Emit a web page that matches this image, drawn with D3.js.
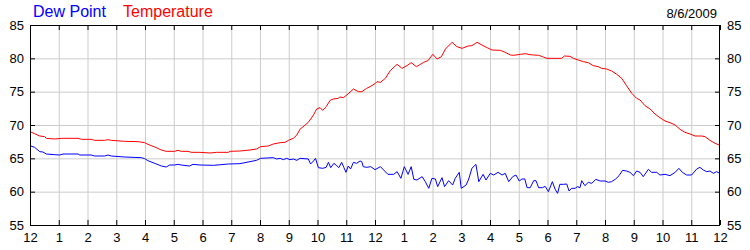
<!DOCTYPE html>
<html>
<head>
<meta charset="utf-8">
<script src="https://cdn.jsdelivr.net/npm/d3@7"></script>
<style>
  body { margin: 0; background: #fff; }
  text { font-family: "Liberation Sans", Arial, sans-serif; }
</style>
</head>
<body>
<div id="chart"></div>
<script>
// hours since midnight, readings in degrees F
const tempHours = [0, 0.16, 0.34, 0.51, 0.57, 0.86, 1.09, 1.67, 1.79, 2.13, 2.25, 2.60, 2.71, 2.83, 3.29, 3.76, 3.99, 4.10, 4.34, 4.57,
  4.74, 5.03, 5.15, 5.26, 5.50, 5.61, 5.91, 6.26, 6.49, 6.90, 6.96, 7.30, 7.65, 7.88, 8.02, 8.29, 8.46, 8.70, 8.87, 8.99,
  9.16, 9.28, 9.39, 9.57, 9.68, 9.86, 9.97, 10.09, 10.18, 10.30, 10.44, 10.55, 10.72, 10.78, 10.90, 11.02, 11.25, 11.42, 11.54, 11.71,
  11.83, 12.00, 12.07, 12.19, 12.36, 12.53, 12.77, 12.94, 13.11, 13.26, 13.44, 13.58, 13.69, 13.84, 14.01, 14.16, 14.31, 14.45, 14.68, 14.85,
  15.03, 15.24, 15.37, 15.55, 15.72, 15.90, 16.07, 16.36, 16.53, 16.71, 16.82, 17.06, 17.23, 17.39, 17.52, 17.69, 17.83, 17.98, 18.49, 18.59,
  18.78, 18.90, 19.07, 19.25, 19.42, 19.59, 19.77, 19.88, 20.06, 20.23, 20.41, 20.58, 20.75, 20.93, 21.10, 21.22, 21.39, 21.57, 21.74, 21.91,
  22.09, 22.26, 22.44, 22.61, 22.78, 22.96, 23.13, 23.36, 23.48, 23.65, 23.83, 24.00];
const temperature = [69.0, 68.7, 68.35, 68.25, 68.0, 67.9, 68.0, 68.0, 67.85, 67.85, 67.7, 67.7, 67.8, 67.7, 67.55, 67.5, 67.35, 67.1, 66.7, 66.25,
  66.05, 66.05, 66.2, 66.05, 66.05, 65.9, 65.9, 65.8, 65.9, 65.9, 66.05, 66.1, 66.25, 66.4, 66.75, 66.85, 67.15, 67.35, 67.4, 67.7,
  68.0, 68.5, 69.35, 70.0, 70.4, 71.5, 72.4, 72.6, 72.2, 72.75, 73.7, 73.9, 74.0, 74.2, 74.1, 74.5, 75.4, 75.0, 75.0, 75.5,
  75.75, 76.2, 76.5, 76.4, 77.0, 78.15, 79.1, 78.5, 78.9, 79.35, 78.75, 79.1, 79.4, 79.65, 80.6, 79.9, 80.25, 81.4, 82.4, 81.75,
  81.5, 81.85, 81.9, 82.4, 82.0, 81.6, 81.25, 81.2, 80.9, 80.5, 80.45, 80.6, 80.7, 80.55, 80.5, 80.45, 80.25, 80.0, 80.0, 80.35,
  80.3, 80.0, 79.75, 79.5, 79.35, 78.9, 78.75, 78.5, 78.4, 78.1, 77.6, 77.0, 75.9, 74.75, 74.0, 73.75, 72.9, 72.4, 71.65, 71.1,
  70.6, 70.35, 70.0, 69.35, 68.9, 68.65, 68.35, 68.35, 68.25, 67.7, 67.25, 66.95];

const dewHours = [0, 0.16, 0.34, 0.45, 0.57, 0.86, 1.03, 1.15, 1.67, 1.73, 2.13, 2.25, 2.60, 2.71, 2.83, 3.29, 3.87, 3.99, 4.10, 4.34,
  4.57, 4.74, 4.86, 5.03, 5.15, 5.26, 5.55, 5.67, 5.91, 6.38, 6.90, 7.30, 7.65, 7.88, 8.02, 8.46, 8.58, 8.70, 8.81, 8.93,
  9.04, 9.16, 9.28, 9.39, 9.68, 9.76, 9.86, 9.93, 10.03, 10.18, 10.30, 10.38, 10.46, 10.57, 10.67, 10.74, 10.84, 10.92, 10.99, 11.07,
  11.15, 11.25, 11.36, 11.48, 11.54, 11.59, 11.71, 11.85, 12.00, 12.19, 12.30, 12.45, 12.65, 12.77, 12.90, 13.02, 13.15, 13.26, 13.35, 13.46,
  13.64, 13.75, 13.87, 13.98, 14.10, 14.18, 14.33, 14.42, 14.56, 14.70, 14.79, 14.93, 15.00, 15.17, 15.26, 15.37, 15.51, 15.61, 15.76, 15.86,
  16.01, 16.13, 16.28, 16.42, 16.53, 16.65, 16.79, 16.90, 17.02, 17.11, 17.21, 17.29, 17.40, 17.52, 17.60, 17.69, 17.83, 17.92, 18.03, 18.17,
  18.26, 18.35, 18.43, 18.55, 18.67, 18.75, 18.84, 18.96, 19.04, 19.13, 19.19, 19.30, 19.42, 19.54, 19.68, 19.83, 20.00, 20.12, 20.23, 20.37,
  20.49, 20.61, 20.75, 20.87, 20.99, 21.10, 21.22, 21.33, 21.51, 21.62, 21.80, 21.91, 22.09, 22.26, 22.44, 22.57, 22.69, 22.84, 23.01, 23.19,
  23.30, 23.42, 23.54, 23.65, 23.77, 23.88, 24.00];
const dewPoint = [66.9, 66.65, 66.0, 65.95, 65.65, 65.55, 65.5, 65.65, 65.65, 65.5, 65.5, 65.35, 65.35, 65.5, 65.35, 65.2, 65.1, 64.95, 64.65, 64.25,
  63.85, 63.7, 64.0, 64.0, 64.1, 64.0, 63.85, 64.1, 64.0, 63.95, 64.15, 64.2, 64.5, 64.7, 65.0, 65.1, 64.9, 65.0, 64.8, 65.0,
  64.8, 64.9, 64.7, 65.0, 64.9, 64.15, 64.6, 65.0, 63.6, 63.5, 63.65, 64.4, 63.6, 64.25, 63.9, 63.6, 64.4, 63.6, 62.9, 63.85,
  63.4, 64.4, 64.25, 64.6, 64.5, 63.75, 63.65, 63.75, 63.3, 63.75, 63.25, 62.6, 62.6, 63.0, 62.0, 63.75, 62.6, 63.75, 61.85, 61.75,
  62.25, 61.5, 60.5, 62.0, 61.9, 60.75, 62.1, 60.75, 61.65, 61.0, 62.0, 62.9, 60.5, 61.0, 61.9, 63.5, 64.1, 61.5, 62.6, 61.75,
  62.75, 62.5, 62.9, 62.5, 62.75, 61.5, 62.25, 62.5, 61.6, 61.9, 61.9, 60.6, 60.6, 61.65, 61.65, 60.6, 60.6, 60.8, 60.0, 61.5,
  60.4, 59.75, 61.1, 61.1, 61.15, 60.1, 60.5, 60.5, 60.75, 60.6, 61.65, 60.9, 61.4, 61.25, 61.85, 61.6, 61.6, 61.4, 61.5, 61.9,
  62.4, 63.2, 63.1, 62.9, 62.4, 63.1, 62.9, 62.25, 63.35, 62.9, 62.9, 62.5, 62.6, 62.4, 62.9, 63.5, 62.9, 62.5, 62.5, 63.4,
  63.65, 63.25, 63.0, 63.1, 62.75, 63.0, 62.75];

const yTicks = [55, 60, 65, 70, 75, 80, 85];
const xTicks = d3.range(0, 25);
const dateLabel = '8/6/2009';

const w = 750;
const h = 250;
const margin = { top: 25, right: 30, bottom: 25, left: 30 };

const xScale = d3.scaleLinear().domain([0, 24]).range([margin.left, w - margin.right]);
const yScale = d3.scaleLinear().domain([55, 85]).range([h - margin.bottom, margin.top]);

const svg = d3.select('#chart').append('svg')
  .attr('width', w)
  .attr('height', h)
  .style('display', 'block');

svg.append('rect').attr('width', w).attr('height', h).attr('fill', '#fff');

// grid
const plotW = xScale.range()[1] - xScale.range()[0];
const plotH = yScale.range()[0] - yScale.range()[1];

svg.append('g')
  .attr('transform', 'translate(0,' + margin.top + ')')
  .call(d3.axisBottom(xScale).tickValues(xTicks.slice(1, -1)).tickSize(plotH).tickFormat(''))
  .call(g => g.select('.domain').remove())
  .call(g => g.selectAll('line').attr('stroke', '#cccccc'));

svg.append('g')
  .attr('transform', 'translate(' + margin.left + ',0)')
  .call(d3.axisRight(yScale).tickValues(yTicks.slice(1, -1)).tickSize(plotW).tickFormat(''))
  .call(g => g.select('.domain').remove())
  .call(g => g.selectAll('line').attr('stroke', '#cccccc'));

// series
const line = d3.line()
  .x(d => xScale(d[0]))
  .y(d => yScale(d[1]));

svg.append('path')
  .datum(dewHours.map((t, i) => [t, dewPoint[i]]))
  .attr('fill', 'none')
  .attr('stroke', '#0000ff')
  .attr('stroke-width', 1)
  .attr('d', line);

svg.append('path')
  .datum(tempHours.map((t, i) => [t, temperature[i]]))
  .attr('fill', 'none')
  .attr('stroke', '#ff0000')
  .attr('stroke-width', 1)
  .attr('d', line);

// axes with inward ticks
const hourFmt = d => (d % 12 === 0 ? 12 : d % 12);

function styleAxis(g) {
  g.select('.domain').remove();
  g.selectAll('line').attr('stroke', '#000');
  g.selectAll('text').attr('fill', '#000').style('font-size', '13px').style('font-family', '"Liberation Sans", Arial, sans-serif');
}

svg.append('g')
  .attr('transform', 'translate(0,' + (h - margin.bottom) + ')')
  .call(d3.axisBottom(xScale).tickValues(xTicks).tickFormat(hourFmt).tickSize(-5).tickPadding(8))
  .call(styleAxis);

svg.append('g')
  .attr('transform', 'translate(0,' + margin.top + ')')
  .call(d3.axisTop(xScale).tickValues(xTicks).tickFormat('').tickSize(-5))
  .call(styleAxis);

svg.append('g')
  .attr('transform', 'translate(' + margin.left + ',0)')
  .call(d3.axisLeft(yScale).tickValues(yTicks).tickSize(-5).tickPadding(6))
  .call(styleAxis);

svg.append('g')
  .attr('transform', 'translate(' + (w - margin.right) + ',0)')
  .call(d3.axisRight(yScale).tickValues(yTicks).tickSize(-5).tickPadding(7))
  .call(styleAxis);

// frame
svg.append('rect')
  .attr('x', margin.left + 0.5)
  .attr('y', margin.top + 0.5)
  .attr('width', plotW - 1)
  .attr('height', plotH)
  .attr('fill', 'none')
  .attr('stroke', '#000')
  .attr('stroke-width', 1);

// legend / title
svg.append('text')
  .attr('x', 33)
  .attr('y', 17)
  .attr('fill', '#0000ff')
  .style('font-size', '16px')
  .text('Dew Point');

svg.append('text')
  .attr('x', 123)
  .attr('y', 17)
  .attr('fill', '#ff0000')
  .style('font-size', '16px')
  .text('Temperature');

svg.append('text')
  .attr('x', 717)
  .attr('y', 18)
  .attr('text-anchor', 'end')
  .attr('fill', '#000')
  .style('font-size', '13px')
  .text(dateLabel);
</script>
</body>
</html>
